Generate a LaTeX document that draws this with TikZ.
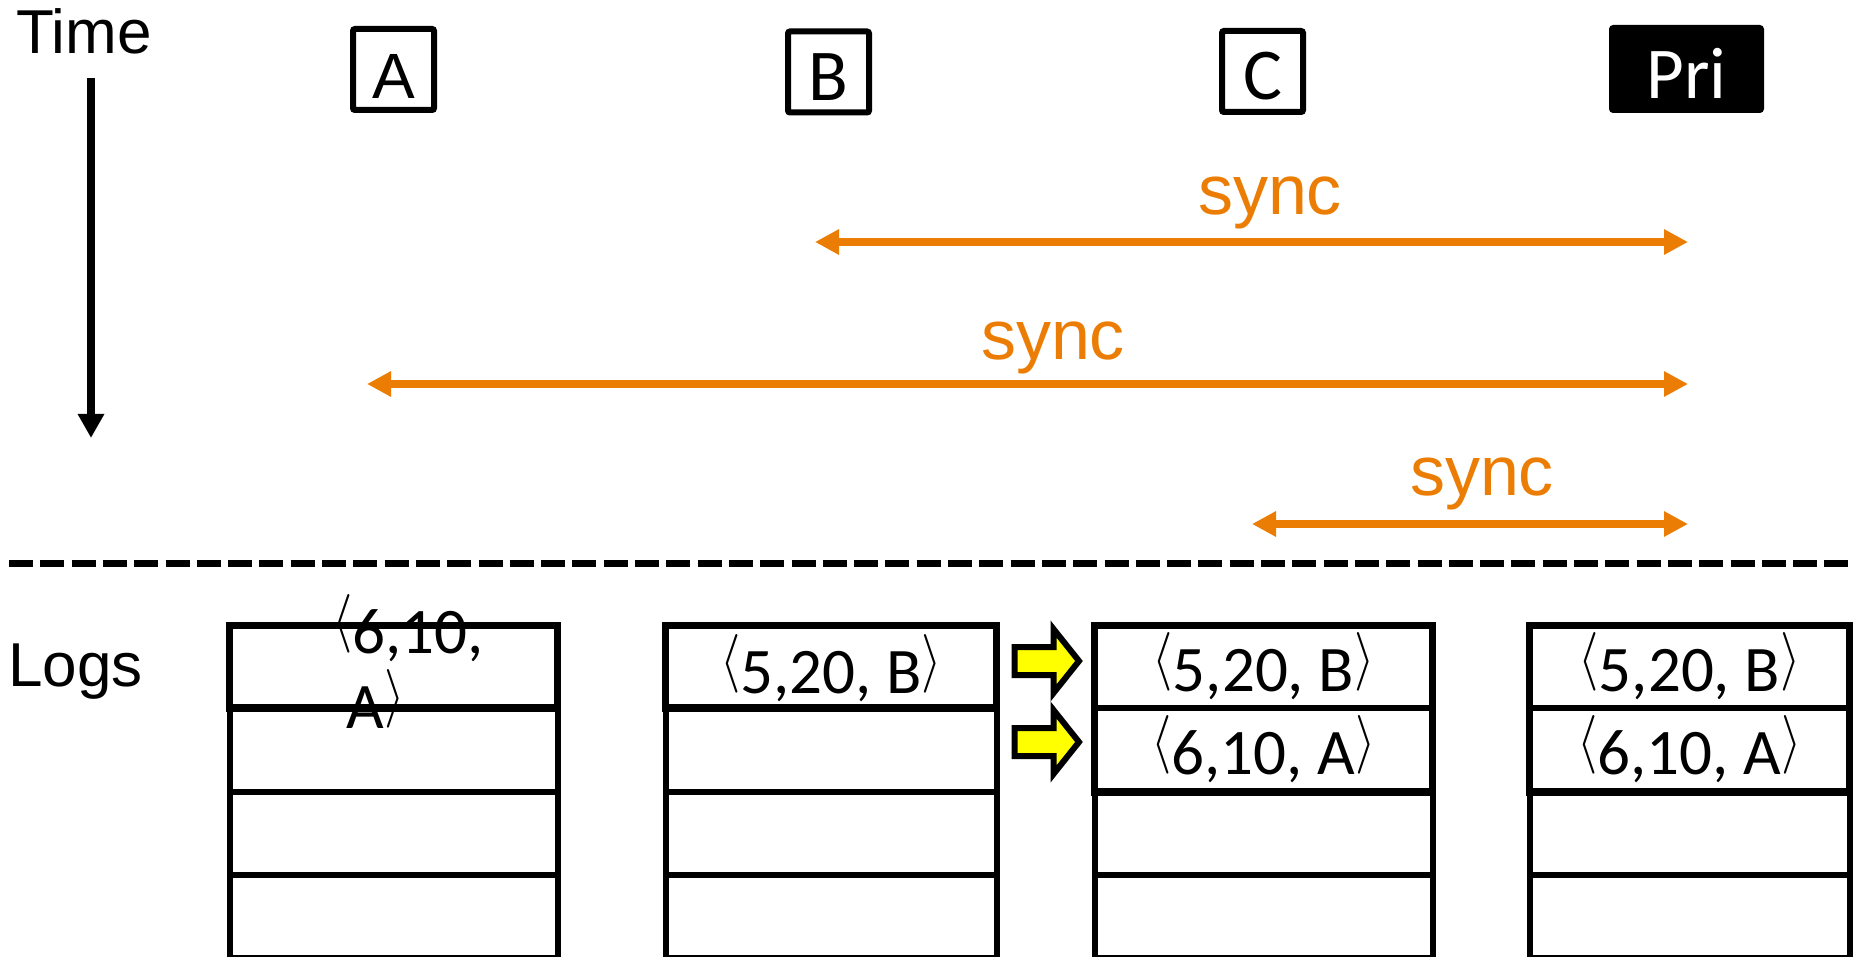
\documentclass[tikz,border=0pt]{standalone}
\usepackage{fontspec}
\usepackage{graphicx}
\setmainfont{Carlito}
\newfontfamily\arialfont{Liberation Sans}
\usetikzlibrary{arrows.meta}
\definecolor{syncorange}{RGB}{235,125,5}
\definecolor{markyellow}{RGB}{255,255,0}
% thin, tall angle brackets sitting on the baseline
\newcommand{\lang}{\raisebox{7.1pt}{\scalebox{1.05}[1.18]{\fontsize{24.88pt}{25pt}\selectfont$\langle$}}}
\newcommand{\rang}{\raisebox{7.1pt}{\scalebox{1.05}[1.18]{\fontsize{24.88pt}{25pt}\selectfont$\rangle$}}}
\begin{document}
\begin{tikzpicture}[x=0.5pt,y=-0.5pt,
  sans/.style={font=\arialfont\fontsize{31pt}{36pt}\selectfont, inner sep=0pt},
  synclabel/.style={font=\arialfont\fontsize{35pt}{40pt}\selectfont, text=syncorange, inner sep=0pt},
  procbox/.style={draw, line width=3pt, rounded corners=1pt, minimum width=40.5pt, minimum height=40.5pt, inner sep=0pt},
  prilabel/.style={font=\fontsize{36.5pt}{42pt}\selectfont, inner sep=0pt},
  entry/.style={font=\fontsize{32.5pt}{38pt}\selectfont, inner sep=0pt},
  cell/.style={line width=3pt},
  hotcell/.style={line width=3.8pt},
  syncarrow/.style={draw=syncorange, line width=4pt,
    {Triangle[length=12pt,width=12pt]}-{Triangle[length=12pt,width=12pt]}},
  timearrow/.style={draw=black, line width=4.3pt, -{Triangle[length=12pt,width=12.5pt]}},
  copyarrow/.style={draw=black, fill=markyellow, line width=3pt, line join=miter}
]
\useasboundingbox (0,0) rectangle (1860,957);

% time axis
\node[sans, anchor=base west] (time) at (16,54) {Time};
\coordinate (t0) at (91,78);
\coordinate (t1) at (91,438);
\draw[timearrow] (t0) -- (t1);

% replicas
\node[procbox] (A) at (393.5,69.5) {};
\node[sans, font=\arialfont\fontsize{32pt}{36pt}\selectfont, anchor=base] (Alab) at (393.5,99) {A};
\node[procbox] (B) at (828.5,72) {};
\node[prilabel, anchor=base] (Blab) at (828.5,101) {B};
\node[procbox] (C) at (1262.5,71.5) {};
\node[prilabel, anchor=base] (Clab) at (1262.5,100) {C};
\node[fill=black, rounded corners=2pt, minimum width=77.5pt, minimum height=44pt, inner sep=0pt] (Pri) at (1686.5,69) {};
\node[prilabel, text=white, anchor=base] (Prilab) at (1686.5,99) {Pri};

% sync exchanges with the primary
\coordinate (s1l) at (815,242);
\coordinate (s1r) at (1688,242);
\coordinate (s2l) at (367,384);
\coordinate (s2r) at (1688,384);
\coordinate (s3l) at (1252,524);
\coordinate (s3r) at (1688,524);
\draw[syncarrow] (s1l) -- (s1r);
\draw[syncarrow] (s2l) -- (s2r);
\draw[syncarrow] (s3l) -- (s3r);
\node[synclabel, anchor=base] (sync1) at (1270,215) {sync};
\node[synclabel, anchor=base] (sync2) at (1053,360) {sync};
\node[synclabel, anchor=base] (sync3) at (1482,495) {sync};

% separator
\coordinate (d0) at (9,563);
\coordinate (d1) at (1848,563);
\draw[line width=3.5pt, dash pattern=on 12pt off 3.65pt] (d0) -- (d1);

% logs
\node[sans, anchor=base west] (logs) at (8,686) {Logs};

\foreach \l/\r in {229.5/557.5, 665.5/996.5, 1094.5/1432.5, 1529.5/1849.5}{
  \draw[cell] (\l,625.5) rectangle (\r,958);
  \draw[cell] (\l,708) -- (\r,708);
  \draw[cell] (\l,792) -- (\r,792);
  \draw[cell] (\l,875) -- (\r,875);
}
\draw[hotcell] (229.5,625.5) rectangle (557.5,708);
\draw[hotcell] (665.5,625.5) rectangle (996.5,708);
\draw[hotcell] (1094.5,625.5) rectangle (1432.5,792);
\draw[hotcell] (1529.5,625.5) rectangle (1849.5,792);

% log entries (A's entry wraps onto a second line)
\node[entry, anchor=base west] (a1) at (332,653)
  {\vtop{\baselineskip=37.5pt\lineskiplimit=-100pt\lineskip=0pt
   \hbox{\lang6,10,}\hbox{\hspace{7pt}A\rang}}};
\node[entry, anchor=base] (b1) at (831,693) {\lang5,20, B\rang};
\node[entry, anchor=base] (c1) at (1263.5,691) {\lang5,20, B\rang};
\node[entry, anchor=base] (c2) at (1263.5,774) {\lang6,10, A\rang};
\node[entry, anchor=base] (p1) at (1689.5,691) {\lang5,20, B\rang};
\node[entry, anchor=base] (p2) at (1689.5,774) {\lang6,10, A\rang};

% copied entries
\foreach \yc in {661,742}{
  \draw[copyarrow] (1014.5,\yc-14) -- (1053.5,\yc-14) -- (1053.5,\yc-32)
    -- (1079,\yc) -- (1053.5,\yc+32) -- (1053.5,\yc+14) -- (1014.5,\yc+14) -- cycle;
}
\end{tikzpicture}
\end{document}
